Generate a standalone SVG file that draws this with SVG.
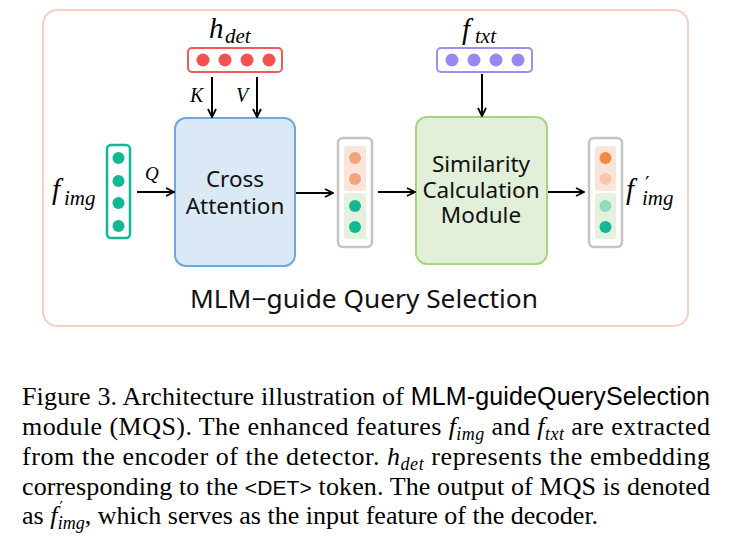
<svg xmlns="http://www.w3.org/2000/svg" width="732" height="556" viewBox="0 0 732 556">
<defs>
<marker id="ah" viewBox="0 0 10 10" refX="9" refY="5" markerWidth="10" markerHeight="10" markerUnits="userSpaceOnUse" orient="auto">
<path d="M1,1 L9,5 L1,9" fill="none" stroke="#000" stroke-width="1.8"/>
</marker>
<style>
.box{font-family:"Noto Sans","Open Sans",sans-serif;font-size:22.5px;fill:#111;text-anchor:middle}
.math{font-family:"Liberation Serif","DejaVu Serif",serif;font-style:italic;fill:#000}
.cap{font-family:"Liberation Serif","Times New Roman",serif;font-size:26px;fill:#000}
.m{font-style:italic}
.sub{font-style:italic;font-size:18px}
.sans{font-family:"Liberation Sans",Arial,sans-serif}
.conn{stroke:#000;stroke-width:2;fill:none;marker-end:url(#ah)}
.teal{fill:#12b893}
.orange{fill:#f0a57c}
</style>
</defs>
<rect width="732" height="556" fill="#fff"/>
<g id="frame">
<rect x="43" y="10" width="645" height="316" rx="14" fill="#fff" stroke="#f9cfc1" stroke-width="2"/>
<text x="364" y="308" font-family="Noto Sans, Open Sans, sans-serif" font-size="25" fill="#111" text-anchor="middle" textLength="348" lengthAdjust="spacingAndGlyphs">MLM−guide Query Selection</text>
</g>
<g id="h_det">
<text class="math" x="209" y="38" font-size="29">h</text><text class="math" x="225" y="43" font-size="21">det</text>
<rect x="188" y="48" width="94" height="24" rx="4" fill="#fff" stroke="#f25a5a" stroke-width="2"/>
<circle cx="203" cy="60" r="6.5" fill="#f45252"/><circle cx="225" cy="60" r="6.5" fill="#f45252"/><circle cx="247" cy="60" r="6.5" fill="#f45252"/><circle cx="269" cy="60" r="6.5" fill="#f45252"/>
</g>
<g id="f_txt">
<text class="math" x="462" y="39" font-size="29">f</text><text class="math" x="475" y="43" font-size="21">txt</text>
<rect x="437" y="48" width="95" height="24" rx="4" fill="#fff" stroke="#9e8ef0" stroke-width="2"/>
<circle cx="452" cy="60" r="6.5" fill="#9b87f2"/><circle cx="474" cy="60" r="6.5" fill="#9b87f2"/><circle cx="496" cy="60" r="6.5" fill="#9b87f2"/><circle cx="518" cy="60" r="6.5" fill="#9b87f2"/>
</g>
<g id="f_img">
<text class="math" x="52" y="199" font-size="29">f</text><text class="math" x="64" y="205" font-size="21">img</text>
<rect x="107" y="145" width="23" height="93" rx="4" fill="#fff" stroke="#12b893" stroke-width="2.5"/>
<circle class="teal" cx="118.5" cy="158" r="6"/><circle class="teal" cx="118.5" cy="181" r="6"/><circle class="teal" cx="118.5" cy="203" r="6"/><circle class="teal" cx="118.5" cy="226" r="6"/>
</g>
<g id="cross_attention">
<rect x="175" y="118" width="120" height="148" rx="11" fill="#dbe8f6" stroke="#6aa9e2" stroke-width="2"/>
<text class="box" x="235" y="187">Cross</text>
<text class="box" x="235" y="214">Attention</text>
</g>
<g id="mid_vector">
<rect x="338" y="138" width="34" height="109" rx="5" fill="#fff" stroke="#c4c4c4" stroke-width="2.5"/>
<rect x="344" y="146" width="22" height="45" rx="3" fill="#fbe5d8"/>
<rect x="344" y="193" width="22" height="46" rx="3" fill="#e3f1dd"/>
<circle class="orange" cx="355" cy="158" r="6"/><circle class="orange" cx="355" cy="179" r="6"/>
<circle class="teal" cx="355" cy="206" r="6"/><circle class="teal" cx="355" cy="227" r="6"/>
</g>
<g id="similarity_module">
<rect x="416" y="117" width="131" height="147" rx="11" fill="#e2efd9" stroke="#a5d67a" stroke-width="2"/>
<text class="box" x="481" y="172">Similarity</text>
<text class="box" x="481" y="198">Calculation</text>
<text class="box" x="481" y="223">Module</text>
</g>
<g id="out_vector">
<rect x="589" y="138" width="33" height="109" rx="5" fill="#fff" stroke="#c4c4c4" stroke-width="2.5"/>
<rect x="595" y="146" width="21" height="45" rx="3" fill="#fbe5d8"/>
<rect x="595" y="193" width="21" height="46" rx="3" fill="#e3f1dd"/>
<circle cx="605.5" cy="158" r="6" fill="#f08a40"/><circle cx="605.5" cy="179" r="6" fill="#f6c8a8"/>
<circle cx="605.5" cy="206" r="6" fill="#8fdcc1"/><circle cx="605.5" cy="227" r="6" fill="#12b893"/>
<text class="math" x="626" y="199" font-size="29">f</text><text x="645" y="190" font-family="DejaVu Sans, sans-serif" font-size="20">′</text><text class="math" x="642" y="205" font-size="21">img</text>
</g>
<g id="connectors">
<line class="conn" x1="212" y1="77" x2="212" y2="117"/>
<line class="conn" x1="257" y1="77" x2="257" y2="117"/>
<line class="conn" x1="482" y1="74" x2="482" y2="116"/>
<line class="conn" x1="137" y1="192" x2="174" y2="192"/>
<line class="conn" x1="296" y1="193" x2="333" y2="193"/>
<line class="conn" x1="378" y1="192" x2="415" y2="192"/>
<line class="conn" x1="548" y1="192" x2="584" y2="192"/>
<text class="math" x="190" y="102" font-size="20">K</text>
<text class="math" x="236" y="102" font-size="20">V</text>
<text class="math" x="145" y="180" font-size="19">Q</text>
</g>
<g id="caption">
<text class="cap" x="22" y="405" textLength="688" lengthAdjust="spacing">Figure 3. Architecture illustration of <tspan class="sans" font-size="25">MLM-guideQuerySelection</tspan></text>
<text class="cap" x="22" y="435" textLength="688" lengthAdjust="spacing">module (MQS). The enhanced features <tspan class="m">f</tspan><tspan class="sub" dy="5">img</tspan><tspan dy="-5"> and </tspan><tspan class="m">f</tspan><tspan class="sub" dy="5">txt</tspan><tspan dy="-5"> are extracted</tspan></text>
<text class="cap" x="22" y="465" textLength="688" lengthAdjust="spacing">from the encoder of the detector. <tspan class="m">h</tspan><tspan class="sub" dy="5">det</tspan><tspan dy="-5"> represents the embedding</tspan></text>
<text class="cap" x="22" y="495" textLength="688" lengthAdjust="spacing">corresponding to the <tspan class="sans" font-size="21">&lt;DET&gt;</tspan> token. The output of MQS is denoted</text>
<text class="cap" x="22" y="524">as <tspan class="m">f</tspan><tspan font-family="DejaVu Sans, sans-serif" font-size="15" dx="2" dy="-11">′</tspan><tspan class="sub" dx="-5" dy="16">img</tspan><tspan dy="-5">, which serves as the input feature of the decoder.</tspan></text>
</g>
</svg>
